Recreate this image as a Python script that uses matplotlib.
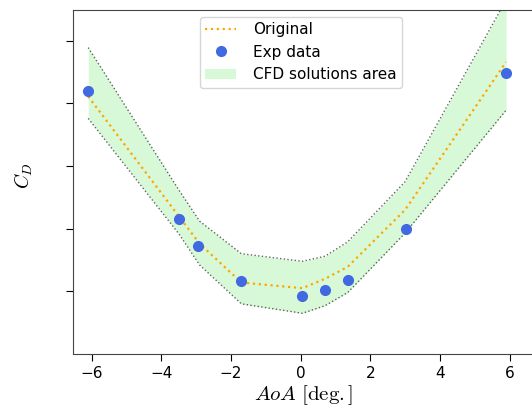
import numpy as np
import matplotlib
matplotlib.use('Agg')
import matplotlib.pyplot as plt

plt.rcParams['mathtext.fontset'] = 'cm'

# angle of attack where the CFD runs were made
aoa = [-6.1, -3.5, -2.9, -1.7, 0.05, 0.7, 1.35, 3.0, 5.9]
cd_original = [4.11, 2.20, 1.76, 1.14, 1.05, 1.20, 1.39, 2.30, 4.66]
cd_upper = [4.89, 2.62, 2.12, 1.60, 1.48, 1.56, 1.79, 2.75, 5.65]
cd_lower = [3.76, 1.92, 1.42, 0.80, 0.65, 0.77, 0.98, 1.93, 3.89]

# experiment
exp_aoa = [-6.1, -3.5, -2.94, -1.72, 0.05, 0.7, 1.35, 3.02, 5.9]
exp_cd = [4.20, 2.15, 1.72, 1.16, 0.93, 1.02, 1.18, 1.99, 4.48]

fig = plt.figure(figsize=(5.32, 4.08), dpi=100)
ax = fig.add_axes([0.137, 0.1324, 0.866, 0.8431])

ax.fill_between(aoa, cd_lower, cd_upper, color='lightgreen', alpha=0.35,
                linewidth=0, label='CFD solutions area')
ax.plot(aoa, cd_upper, ':', color='k', lw=1, alpha=0.6)
ax.plot(aoa, cd_lower, ':', color='k', lw=1, alpha=0.6)
ax.plot(aoa, cd_original, ':', color='orange', lw=1.6, label='Original')
ax.plot(exp_aoa, exp_cd, 'o', color='royalblue', ms=7, label='Exp data')

ax.set_xlim(-6.54, 6.69)
ax.set_ylim(0, 5.49)
ax.set_xticks([-6, -4, -2, 0, 2, 4, 6])
ax.set_yticks([1, 2, 3, 4, 5])
ax.set_yticklabels([])
ax.tick_params(labelsize=11, length=5)
for s in ax.spines.values():
    s.set_color('#444444')

ax.set_xlabel(r'$AoA\ [\mathrm{deg.}]$', fontsize=15, labelpad=2)
ax.set_ylabel(r'$C_D$', fontsize=14)
ax.yaxis.set_label_coords(-0.082, 0.52)

h, l = ax.get_legend_handles_labels()
order = [1, 2, 0]
ax.legend([h[i] for i in order], [l[i] for i in order], loc='upper center',
          fontsize=11, bbox_to_anchor=(0.495, 1.003), handlelength=2.0,
          handletextpad=1.1, labelspacing=0.5, borderpad=0.35)

fig.savefig('out.png', dpi=100)
